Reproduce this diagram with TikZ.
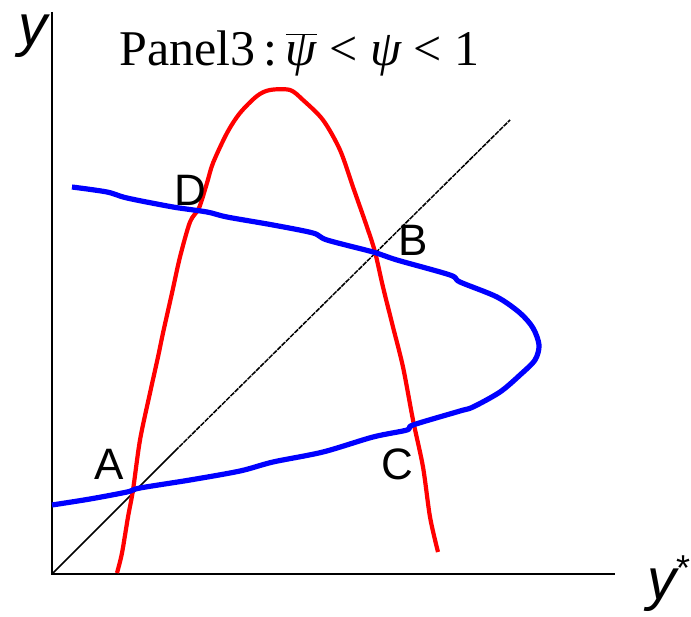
\documentclass[tikz,border=0pt]{standalone}
\usepackage{fontspec}
\setmainfont{Liberation Serif}
\newfontfamily\arial{Liberation Sans}
\begin{document}
\begin{tikzpicture}[x=1pt,y=-1pt,
  axisline/.style={line width=2pt,black},
  redcurve/.style={line width=4.2pt,red,line join=round},
  bluecurve/.style={line width=5.2pt,blue,line join=round},
  diag/.style={line width=1.5pt,black},
  ptlabel/.style={font=\arial\fontsize{44}{44}\selectfont,inner sep=0pt}]
\useasboundingbox (0,0) rectangle (691,617);
% axes
\coordinate (top) at (52,12);
\coordinate (o) at (52,574);
\coordinate (right) at (615,574);
\draw[axisline] (top) -- (o) -- (right);
% 45-degree line
\coordinate (m) at (175,451);
\coordinate (e) at (510,120);
\draw[diag] (o) -- (m);
\draw[diag,dash pattern=on 5pt off 1pt] (m) -- (e);
% red curve
\draw[redcurve] plot[smooth,tension=0.5] coordinates {
 (117,573) (122,553) (128,517) (133,490) (140,440) (150,393) (158,357)
 (163,333) (172,293) (180,257) (190,222) (199,208) (207,183) (213,163)
 (227,133) (240,113) (257,96) (270,90) (290,90) (303,100) (323,120)
 (340,150) (353,187) (367,227) (375,252) (383,287) (393,327) (403,367)
 (413,420) (423,467) (430,517) (438,552)};
% blue curve
\draw[bluecurve] plot[smooth,tension=0.5] coordinates {
 (72,187) (107,192) (127,198) (173,207) (207,212) (227,217) (273,225)
 (313,233) (327,240) (373,252) (397,260) (450,275) (460,282) (497,297)
 (520,313) (533,328) (539,345) (535,360) (520,375) (500,392) (473,407)
 (460,411) (413,425) (407,430) (373,437) (323,452) (273,462) (240,471)
 (190,480) (140,488) (127,492) (90,499) (52,505)};
% labels
\node[ptlabel] (A) at (109,464) {A};
\node[ptlabel] (B) at (413,240) {B};
\node[ptlabel] (C) at (397,464) {C};
\node[ptlabel] (D) at (190,190) {D};
\node[font=\arial\itshape\fontsize{58}{58}\selectfont,inner sep=0pt] (ylab) at (33,36) {y};
\node[font=\arial\itshape\fontsize{58}{58}\selectfont,inner sep=0pt] (yslab) at (662,590) {y};
\node[font=\arial\fontsize{36}{36}\selectfont,inner sep=0pt] (star) at (683,568) {*};
\node[font=\fontsize{50}{50}\selectfont,inner sep=0pt,anchor=base west] (title) at (119,66)
 {Panel3\,:\,$\overline{\hbox{\itshape ψ}}$ < {\itshape ψ} < 1};
\end{tikzpicture}
\end{document}
